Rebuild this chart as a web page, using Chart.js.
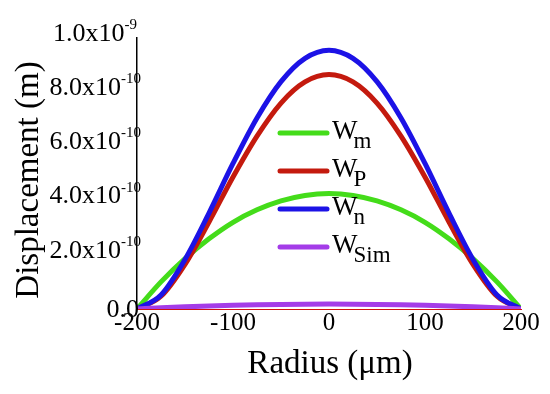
<!DOCTYPE html>
<html>
<head>
<meta charset="utf-8">
<script src="https://cdn.jsdelivr.net/npm/chart.js@4.4.1/dist/chart.umd.min.js"></script>
<style>
  body { margin: 0; background: #fff; }
  #wrap { width: 550px; height: 394px; }
</style>
</head>
<body>
<div id="wrap"><canvas id="plot" width="550" height="394"></canvas></div>
<script>
// radius in um
var radius = [-200, -175, -150, -125, -100, -75, -50, -25, 0, 25, 50, 75, 100, 125, 150, 175, 200];

// displacement in m
var wm = [0, 1.00e-10, 1.86e-10, 2.59e-10, 3.20e-10, 3.66e-10, 3.99e-10, 4.19e-10, 4.26e-10,
          4.19e-10, 3.99e-10, 3.66e-10, 3.20e-10, 2.59e-10, 1.86e-10, 1.00e-10, 0];
var wp = [0, 0.47e-10, 1.65e-10, 3.21e-10, 4.87e-10, 6.38e-10, 7.60e-10, 8.38e-10, 8.65e-10,
          8.38e-10, 7.60e-10, 6.38e-10, 4.87e-10, 3.21e-10, 1.65e-10, 0.47e-10, 0];
var wn = [0, 0.52e-10, 1.83e-10, 3.54e-10, 5.37e-10, 7.05e-10, 8.39e-10, 9.25e-10, 9.55e-10,
          9.25e-10, 8.39e-10, 7.05e-10, 5.37e-10, 3.54e-10, 1.83e-10, 0.52e-10, 0];
var wsim = [0, 0.042e-10, 0.079e-10, 0.11e-10, 0.135e-10, 0.155e-10, 0.169e-10, 0.177e-10, 0.18e-10,
            0.177e-10, 0.169e-10, 0.155e-10, 0.135e-10, 0.11e-10, 0.079e-10, 0.042e-10, 0];

var yTickMain = ['0.0', '2.0x10', '4.0x10', '6.0x10', '8.0x10', '1.0x10'];
var yTickExp = ['', '-10', '-10', '-10', '-10', '-9'];

var legendNames = ['W', 'W', 'W', 'W'];
var legendSubs = ['m', 'P', 'n', 'Sim'];
var legendColors = ['#44dc1a', '#c41a0e', '#1c12e6', '#a43ce8'];

var serif = '"Liberation Serif", "DejaVu Serif", serif';

function toPoints(ys) {
  return ys.map(function (y, i) { return { x: radius[i], y: y }; });
}

function makeSet(label, ys, color, order) {
  return {
    label: label,
    data: toPoints(ys),
    borderColor: color,
    borderWidth: 5,
    pointRadius: 0,
    fill: false,
    cubicInterpolationMode: 'monotone',
    order: order
  };
}

var extras = {
  id: 'extras',
  afterDraw: function (chart) {
    var ctx = chart.ctx;
    var ys = chart.scales.y;
    var area = chart.chartArea;
    ctx.save();
    ctx.fillStyle = '#000';

    // y tick labels with superscript
    ys.ticks.forEach(function (t, i) {
      var py = ys.getPixelForValue(t.value);
      var main = yTickMain[i];
      var exp = yTickExp[i];
      ctx.textBaseline = 'middle';
      if (exp === '') {
        ctx.font = '26px ' + serif;
        ctx.textAlign = 'right';
        ctx.fillText(main, 139, py + 1);
        return;
      }
      ctx.font = '15px ' + serif;
      var ew = ctx.measureText(exp).width;
      var right = exp === '-9' ? 137 : 141;
      ctx.textAlign = 'left';
      ctx.fillText(exp, right - ew, py - 13);
      ctx.font = '26px ' + serif;
      ctx.textAlign = 'right';
      ctx.fillText(main, right - ew, py - 4);
    });

    // axis titles
    ctx.font = '33px ' + serif;
    ctx.textAlign = 'center';
    ctx.textBaseline = 'alphabetic';
    ctx.fillText('Radius (\u03bcm)', (area.left + area.right) / 2 + 1, 373);
    ctx.save();
    ctx.translate(38, 180);
    ctx.rotate(-Math.PI / 2);
    ctx.fillText('Displacement (m)', 0, 0);
    ctx.restore();

    // legend
    for (var i = 0; i < legendNames.length; i++) {
      var ly = 133 + i * 38;
      ctx.strokeStyle = legendColors[i];
      ctx.lineWidth = 5;
      ctx.lineCap = 'round';
      ctx.beginPath();
      ctx.moveTo(280, ly);
      ctx.lineTo(327, ly);
      ctx.stroke();
      ctx.textAlign = 'left';
      ctx.font = '27px ' + serif;
      ctx.fillText(legendNames[i], 332, ly + 6);
      var w = ctx.measureText(legendNames[i]).width;
      ctx.font = '23px ' + serif;
      ctx.fillText(legendSubs[i], 332 + w - 4, ly + 15);
    }
    ctx.restore();
  }
};

new Chart(document.getElementById('plot'), {
  type: 'line',
  data: {
    datasets: [
      makeSet('Wm', wm, legendColors[0], 4),
      makeSet('WP', wp, legendColors[1], 3),
      makeSet('Wn', wn, legendColors[2], 2),
      makeSet('WSim', wsim, legendColors[3], 1)
    ]
  },
  options: {
    responsive: false,
    animation: false,
    layout: { padding: { left: 0, top: 38, right: 29, bottom: 0 } },
    plugins: { legend: { display: false }, tooltip: { enabled: false } },
    scales: {
      x: {
        type: 'linear',
        min: -200,
        max: 200,
        grid: { display: false, drawTicks: false },
        border: { display: true, color: '#d01010', width: 1 },
        ticks: {
          stepSize: 100,
          padding: -1,
          color: '#000',
          font: { family: serif, size: 25 }
        },
        afterFit: function (scale) { scale.height = 85; }
      },
      y: {
        min: 0,
        max: 1e-9,
        grid: { display: false, drawTicks: false },
        border: { display: true, color: '#000', width: 1.5 },
        ticks: { stepSize: 2e-10, display: false },
        afterFit: function (scale) { scale.width = 137; }
      }
    }
  },
  plugins: [extras]
});
</script>
</body>
</html>
